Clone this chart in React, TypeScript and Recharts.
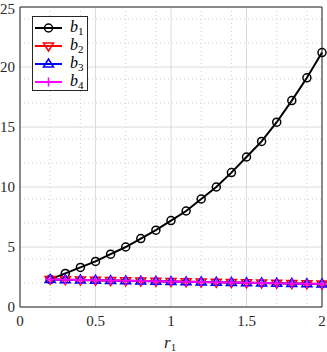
import { CartesianGrid, Line, LineChart, ReferenceLine, XAxis, YAxis } from 'recharts';

const r1 = [0.2, 0.3, 0.4, 0.5, 0.6, 0.7, 0.8, 0.9, 1.0, 1.1, 1.2, 1.3, 1.4, 1.5, 1.6, 1.7, 1.8, 1.9, 2.0];
const b1 = [2.3, 2.8, 3.3, 3.8, 4.4, 5.0, 5.7, 6.4, 7.2, 8.0, 9.0, 10.0, 11.2, 12.5, 13.8, 15.4, 17.2, 19.1, 21.2];
const b2 = [2.3, 2.28, 2.25, 2.23, 2.2, 2.18, 2.16, 2.14, 2.12, 2.1, 2.08, 2.06, 2.04, 2.02, 2.0, 1.98, 1.96, 1.94, 1.92];
const b3 = [2.3, 2.28, 2.25, 2.23, 2.2, 2.18, 2.16, 2.14, 2.12, 2.1, 2.08, 2.06, 2.04, 2.02, 2.0, 1.98, 1.96, 1.94, 1.92];
const b4 = [2.3, 2.28, 2.25, 2.23, 2.2, 2.18, 2.16, 2.14, 2.12, 2.1, 2.08, 2.06, 2.04, 2.02, 2.0, 1.98, 1.96, 1.94, 1.92];

const xTicks = [0, 0.5, 1, 1.5, 2];
const yTicks = [0, 5, 10, 15, 20, 25];
const xMinor = [0.1, 0.2, 0.3, 0.4, 0.6, 0.7, 0.8, 0.9, 1.1, 1.2, 1.3, 1.4, 1.6, 1.7, 1.8, 1.9];
const yMinor = [1, 2, 3, 4, 6, 7, 8, 9, 11, 12, 13, 14, 16, 17, 18, 19, 21, 22, 23, 24];

const data = r1.map((r, i) => ({ r, b1: b1[i], b2: b2[i], b3: b3[i], b4: b4[i] }));

const FONT = '"Liberation Serif", "DejaVu Serif", serif';

type Mk = 'circle' | 'down' | 'up' | 'plus';

function marker(kind: Mk, color: string, cx: number, cy: number, key?: string) {
  if (kind === 'circle') return <circle key={key} cx={cx} cy={cy} r={4} fill="none" stroke={color} strokeWidth={1.5} />;
  if (kind === 'down')
    return <path key={key} d={`M${cx - 5},${cy - 3} L${cx + 5},${cy - 3} L${cx},${cy + 5} Z`} fill="none" stroke={color} strokeWidth={1.5} />;
  if (kind === 'up')
    return <path key={key} d={`M${cx - 5},${cy + 3} L${cx + 5},${cy + 3} L${cx},${cy - 5} Z`} fill="none" stroke={color} strokeWidth={1.5} />;
  return <path key={key} d={`M${cx - 4.5},${cy} L${cx + 4.5},${cy} M${cx},${cy - 4.5} L${cx},${cy + 4.5}`} stroke={color} strokeWidth={1.5} />;
}

const series: { key: string; color: string; mk: Mk }[] = [
  { key: 'b1', color: '#000000', mk: 'circle' },
  { key: 'b2', color: '#ff0000', mk: 'down' },
  { key: 'b3', color: '#0000ff', mk: 'up' },
  { key: 'b4', color: '#ff00ff', mk: 'plus' },
];

// legend and axis label drawn as one svg overlay on top of the chart
function Overlay() {
  return (
    <svg width={327} height={352} style={{ position: 'absolute', left: 0, top: 0, pointerEvents: 'none' }}>
      <rect x={32.5} y={16.5} width={55} height={74} fill="#fff" stroke="#262626" />
      {series.map((s, i) => {
        const y = 28 + i * 18;
        return (
          <g key={s.key}>
            <line x1={35} x2={62} y1={y} y2={y} stroke={s.color} strokeWidth={2} />
            {marker(s.mk, s.color, 48.5, y)}
            <text x={70} y={y + 4} fontFamily={FONT} fontSize={16} fill="#000">
              <tspan fontStyle="italic">b</tspan>
              <tspan fontSize={11} dy={3}>{s.key.slice(1)}</tspan>
            </text>
          </g>
        );
      })}
      <text x={164} y={348} fontFamily={FONT} fontSize={17} fill="#262626">
        <tspan fontStyle="italic">r</tspan>
        <tspan fontSize={11} dy={3}>1</tspan>
      </text>
    </svg>
  );
}

export default function App() {
  return (
    <div style={{ position: 'absolute', left: 0, top: 0, width: 327, height: 352, background: '#fff' }}>
      <LineChart width={327} height={352} data={data} margin={{ top: 7, right: 5, left: 0, bottom: 0 }}>
        <CartesianGrid stroke="#cfcfcf" strokeDasharray="1 3" horizontalValues={yMinor} verticalValues={xMinor} />
        <CartesianGrid stroke="#dcdcdc" horizontalValues={yTicks} verticalValues={xTicks} />
        <XAxis
          dataKey="r"
          type="number"
          domain={[0, 2]}
          ticks={xTicks}
          tickFormatter={(v) => String(v)}
          height={45}
          stroke="#262626"
          tickLine={false}
          tickSize={0}
          tick={{ fontSize: 15, fill: '#262626', fontFamily: FONT }}
          tickMargin={8}
        />
        <YAxis
          type="number"
          domain={[0, 25]}
          ticks={yTicks}
          width={20}
          stroke="#262626"
          tickLine={false}
          tickSize={0}
          tick={{ fontSize: 15, fill: '#262626', fontFamily: FONT }}
          tickMargin={5}
        />
        <ReferenceLine y={25} stroke="#262626" />
        <ReferenceLine x={2} stroke="#262626" />
        {series.map((s) => (
          <Line
            key={s.key}
            dataKey={s.key}
            stroke={s.color}
            strokeWidth={2}
            isAnimationActive={false}
            dot={(p: any) => marker(s.mk, s.color, p.cx, p.cy, `${s.key}-${p.index}`)}
          />
        ))}
      </LineChart>
      <Overlay />
    </div>
  );
}
